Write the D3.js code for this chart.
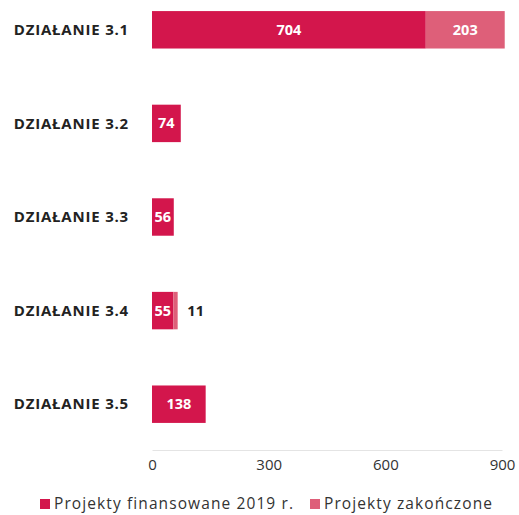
<!DOCTYPE html>
<html>
<head>
<meta charset="utf-8" />
<title>Działania 3.1 - 3.5</title>
<style>
  body { margin: 0; background: #fff; }
  text { font-family: "Open Sans", "Noto Sans", sans-serif; }
</style>
</head>
<body>
<svg id="chart" width="519" height="515"></svg>
<script src="https://d3js.org/d3.v7.min.js"></script>
<script>
// data
var categories = ["DZIAŁANIE 3.1", "DZIAŁANIE 3.2", "DZIAŁANIE 3.3", "DZIAŁANIE 3.4", "DZIAŁANIE 3.5"];
var financed = [704, 74, 56, 55, 138];
var finished = [203, 0, 0, 11, 0];
var seriesNames = ["Projekty finansowane 2019 r.", "Projekty zakończone"];
var tickValues = [0, 300, 600, 900];

var colors = ["#d3164c", "#de5f79"];

var svg = d3.select("#chart");

var x = d3.scaleLinear().domain([0, 900]).range([152, 502]);
var y = d3.scaleBand().domain(categories).range([-17, 451]).paddingInner(0.6).paddingOuter(0.3);

// labels on the left
svg.selectAll("text.cat")
  .data(categories)
  .enter().append("text")
  .attr("class", "cat")
  .attr("x", 129)
  .attr("y", function(d) { return y(d) + y.bandwidth() / 2; })
  .attr("dy", "0.35em")
  .attr("text-anchor", "end")
  .attr("font-size", 15)
  .attr("letter-spacing", 0.8)
  .attr("font-weight", "bold")
  .attr("fill", "#222")
  .text(function(d) { return d; });

var rows = categories.map(function(c, i) {
  return { cat: c, a: financed[i], b: finished[i] };
});

// first segment
svg.selectAll("rect.fin")
  .data(rows)
  .enter().append("rect")
  .attr("class", "fin")
  .attr("x", x(0))
  .attr("y", function(d) { return y(d.cat); })
  .attr("width", function(d) { return x(d.a) - x(0); })
  .attr("height", y.bandwidth())
  .attr("fill", colors[0]);

// second segment
svg.selectAll("rect.end")
  .data(rows.filter(function(d) { return d.b > 0; }))
  .enter().append("rect")
  .attr("class", "end")
  .attr("x", function(d) { return x(d.a); })
  .attr("y", function(d) { return y(d.cat); })
  .attr("width", function(d) { return x(d.a + d.b) - x(d.a); })
  .attr("height", y.bandwidth())
  .attr("fill", colors[1]);

// values
svg.selectAll("text.va")
  .data(rows)
  .enter().append("text")
  .attr("class", "va")
  .attr("x", function(d) { return (x(0) + x(d.a)) / 2; })
  .attr("y", function(d) { return y(d.cat) + y.bandwidth() / 2; })
  .attr("dy", "0.35em")
  .attr("text-anchor", "middle")
  .attr("font-size", 14.5)
  .attr("font-weight", "bold")
  .attr("fill", "#fff")
  .text(function(d) { return d.a; });

svg.selectAll("text.vb")
  .data(rows.filter(function(d) { return d.b > 0; }))
  .enter().append("text")
  .attr("class", "vb")
  .attr("x", function(d) {
    var w = x(d.a + d.b) - x(d.a);
    return w > 30 ? (x(d.a) + x(d.a + d.b)) / 2 : x(d.a + d.b) + 18;
  })
  .attr("y", function(d) { return y(d.cat) + y.bandwidth() / 2; })
  .attr("dy", "0.35em")
  .attr("text-anchor", "middle")
  .attr("font-size", 14.5)
  .attr("font-weight", "bold")
  .attr("fill", function(d) { return (x(d.a + d.b) - x(d.a)) > 30 ? "#fff" : "#222"; })
  .text(function(d) { return d.b; });

// axis
var axis = svg.append("g")
  .attr("transform", "translate(0,450)")
  .call(d3.axisBottom(x).tickValues(tickValues).tickSize(0).tickPadding(9));
axis.select(".domain").attr("stroke", "#e4e4e4");
axis.selectAll("text")
  .attr("font-family", "'Open Sans', sans-serif")
  .attr("font-size", 15)
  .attr("fill", "#333");

// legend
var legend = svg.append("g").attr("transform", "translate(0,504)");
var legX = [40, 310];
seriesNames.forEach(function(name, i) {
  legend.append("rect")
    .attr("x", legX[i])
    .attr("y", -5)
    .attr("width", 10)
    .attr("height", 10)
    .attr("fill", colors[i]);
  legend.append("text")
    .attr("x", legX[i] + 14)
    .attr("y", 0)
    .attr("dy", "0.35em")
    .attr("font-size", 15.5)
    .attr("letter-spacing", 1.1)
    .attr("fill", "#333")
    .text(name);
});
</script>
</body>
</html>
